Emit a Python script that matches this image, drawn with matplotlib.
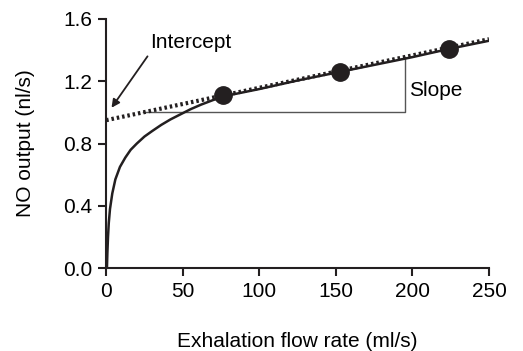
import matplotlib
matplotlib.use("Agg")
import matplotlib.pyplot as plt
import numpy as np

plt.rcParams['font.family'] = ['Liberation Sans', 'DejaVu Sans']

# measured NO output at three exhalation flow rates
flow_pts = [76, 153, 224]
no_pts = [1.11, 1.26, 1.41]

# linear fit through the points (intercept, slope)
intercept = 0.95
slope = 0.00208
line_x = [0, 250]

# model curve of NO output versus flow
curve_x = [0.5, 0.8, 1.2, 1.7, 2.5, 4, 6, 9, 12.5, 16, 20, 25, 30, 36, 42, 48, 55, 62,
           70, 80, 100, 125, 150, 175, 200, 225, 250]
curve_y = [0, 0.1, 0.2, 0.29, 0.38, 0.48, 0.57, 0.65, 0.71, 0.76, 0.80, 0.845, 0.88,
           0.92, 0.955, 0.985, 1.02, 1.05, 1.08, 1.11, 1.15, 1.205, 1.255, 1.305,
           1.355, 1.41, 1.46]

xticks = [0, 50, 100, 150, 200, 250]
yticks = [0.0, 0.4, 0.8, 1.2, 1.6]

fig = plt.figure(figsize=(5.23, 3.51), dpi=100)
ax = fig.add_axes([0.203, 0.236, 0.732, 0.71])

ax.plot(curve_x, curve_y, color='#231f20', lw=1.8, zorder=2)

line_y = [intercept + slope * x for x in line_x]
ax.plot(line_x, line_y, color='#231f20', lw=3, linestyle=(0, (0.6, 0.7)),
        dash_capstyle='butt', zorder=3)

ax.plot(flow_pts, no_pts, 'o', color='#231f20', markersize=12.5, zorder=4)

# slope triangle
x0 = (1.0 - intercept) / slope
x1 = 195
ax.plot([x0, x1, x1], [1.0, 1.0, intercept + slope * x1], color='#555555', lw=1, zorder=1)
ax.text(x1 + 3, 1.14, 'Slope', fontsize=15, va='center', ha='left')

# intercept label with arrow to the y axis
ax.text(29, 1.45, 'Intercept', fontsize=15, va='center', ha='left')
ax.annotate('', xy=(3.5, 1.03), xytext=(27, 1.36),
            arrowprops=dict(arrowstyle='-|>', color='#231f20', lw=1.3,
                            shrinkA=0, shrinkB=0, mutation_scale=12))

ax.set_xlim(0, 250)
ax.set_ylim(0, 1.6)
ax.set_xticks(xticks)
ax.set_yticks(yticks)
ax.set_yticklabels(['%.1f' % v for v in yticks])
for s in ['top', 'right']:
    ax.spines[s].set_visible(False)
for s in ['left', 'bottom']:
    ax.spines[s].set_linewidth(1.5)
    ax.spines[s].set_color('#231f20')
ax.tick_params(direction='out', length=6, width=1.5, color='#231f20', labelsize=15, pad=4)

ax.set_xlabel('Exhalation flow rate (ml/s)', fontsize=15, labelpad=22)
ax.set_ylabel('NO output (nl/s)', fontsize=15, labelpad=20)

fig.savefig('out.png', dpi=100)
